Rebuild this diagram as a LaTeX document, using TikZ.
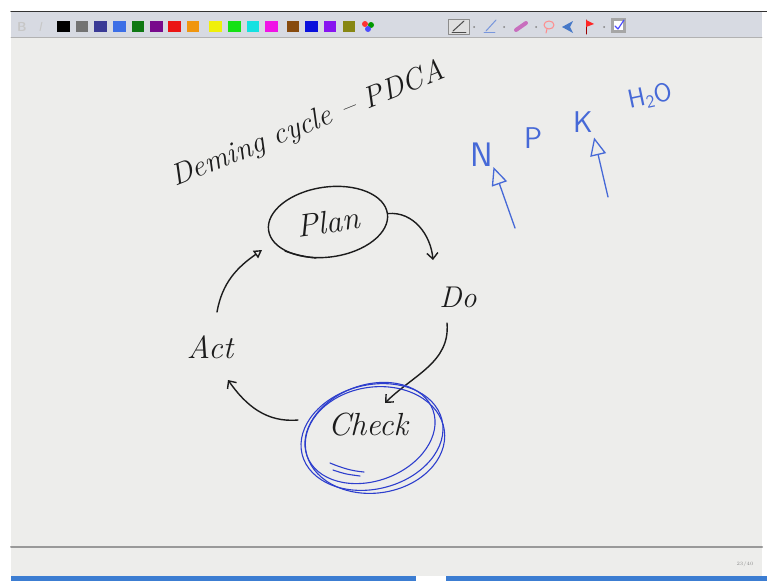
\documentclass[tikz,border=0pt]{standalone}
\usepackage{fontspec}
\usetikzlibrary{arrows.meta,shapes.geometric}
\definecolor{ink}{RGB}{28,28,28}
\definecolor{inkblue}{RGB}{70,105,215}
\definecolor{penblue}{RGB}{45,62,205}
\definecolor{pagegray}{RGB}{237,237,235}
\definecolor{bargray}{RGB}{215,218,226}
\definecolor{taskblue}{RGB}{60,125,210}
\begin{document}
\begin{tikzpicture}[x=1pt,y=1pt,line cap=round,line join=round,
  hand/.style={text=ink,font=\fontsize{32}{38}\selectfont\itshape,inner sep=0pt},
  blueink/.style={text=inkblue,font=\fontsize{30}{36}\selectfont\sffamily,inner sep=0pt},
  cycarrow/.style={draw=ink,line width=1.4pt,-{Straight Barb[length=6pt,width=11pt]}},
  bluearrow/.style={draw=inkblue,line width=1.3pt,-{Triangle[open,length=18pt,width=16pt]}},
  circstroke/.style={draw=penblue,line width=1.1pt}]
				\useasboundingbox (0,0) rectangle (767,-581);
				\fill [white] (0,0) rectangle (767,-581);
				% window: toolbar, page and status bar
				\fill [bargray] (11,-12) rectangle (762,-37);
				\draw [line width=1.2pt,color=black!80] (11,-11.5)-- (767,-11.5);
				\fill [pagegray] (11,-37) rectangle (762,-547);
				\draw [line width=0.6pt,color=black!30] (11,-37)-- (762,-37);
				\draw [line width=2pt,color=black!40] (11,-547)-- (762,-547);
				\fill [pagegray] (11,-548) rectangle (762,-576);
				\fill [taskblue] (11,-576) rectangle (416,-581);
				\fill [taskblue] (446,-576) rectangle (767,-581);
				\node [font=\fontsize{5}{6}\selectfont,text=black!45] (pagenum) at (745,-564) {23/40};
				\node [font=\fontsize{13}{13}\selectfont\sffamily\bfseries,text=black!22] (boldbtn) at (22,-27) {B};
				\node [font=\fontsize{13}{13}\selectfont\sffamily\itshape,text=black!22] (italbtn) at (40,-27) {I};
				% colour swatches
				\fill [black] (57,-21) rectangle (70,-32);
				\fill [black!55] (76,-21) rectangle (88,-32);
				\fill [color={rgb,255:red,58;green,58;blue,150}] (94,-21) rectangle (107,-32);
				\fill [color={rgb,255:red,60;green,110;blue,230}] (113,-21) rectangle (126,-32);
				\fill [color={rgb,255:red,15;green,120;blue,20}] (132,-21) rectangle (144,-32);
				\fill [color={rgb,255:red,120;green,10;blue,140}] (150,-21) rectangle (163,-32);
				\fill [color={rgb,255:red,235;green,20;blue,20}] (168,-21) rectangle (181,-32);
				\fill [color={rgb,255:red,240;green,150;blue,15}] (187,-21) rectangle (199,-32);
				\fill [color={rgb,255:red,240;green,240;blue,10}] (209,-21) rectangle (222,-32);
				\fill [color={rgb,255:red,20;green,225;blue,20}] (228,-21) rectangle (241,-32);
				\fill [color={rgb,255:red,20;green,225;blue,225}] (247,-21) rectangle (259,-32);
				\fill [color={rgb,255:red,240;green,20;blue,230}] (265,-21) rectangle (278,-32);
				\fill [color={rgb,255:red,135;green,75;blue,15}] (287,-21) rectangle (299,-32);
				\fill [color={rgb,255:red,10;green,15;blue,220}] (305,-21) rectangle (318,-32);
				\fill [color={rgb,255:red,135;green,20;blue,240}] (324,-21) rectangle (336,-32);
				\fill [color={rgb,255:red,135;green,135;blue,20}] (343,-21) rectangle (355,-32);
				\fill [red!80] (365,-24) circle (3);
				\fill [green!60!black] (371,-25) circle (3);
				\fill [blue!70] (368,-29) circle (3);
				% tool icons
				\draw [black!45,fill=black!12] (448,-19) rectangle (469,-34);
				\draw [line width=1pt,black!70] (453,-31)-- (464,-21);
				\draw [line width=0.8pt,black!70] (452,-32)-- (466,-32);
				\fill [black!50] (474,-27) circle (1);
				\draw [line width=1pt,color={rgb,255:red,120;green,150;blue,220}] (486,-31)-- (496,-20);
				\draw [line width=0.8pt,color={rgb,255:red,120;green,150;blue,220}] (484,-32)-- (495,-32);
				\fill [black!50] (504,-27) circle (1);
				\draw [line width=4pt,color={rgb,255:red,200;green,110;blue,190}] (516,-30)-- (526,-23);
				\fill [black!50] (536,-27) circle (1);
				\draw [line width=1pt,red!45] (549,-25) ellipse (5 and 4);
				\draw [line width=1pt,red!45] (547,-29)-- (546,-33);
				\fill [color={rgb,255:red,70;green,120;blue,200}] (562,-27)-- (573,-21)-- (570,-27)-- (573,-33)-- cycle;
				\draw [line width=1pt,red!60!black] (586,-34)-- (586,-20);
				\fill [red!85] (586,-20)-- (594,-24)-- (586,-27)-- cycle;
				\fill [black!50] (604,-27) circle (1);
				\fill [black!35] (611,-18) rectangle (626,-33);
				\fill [white] (614,-21) rectangle (623,-30);
				\draw [line width=1.2pt,blue!70] (615,-26)-- (618,-29)-- (624,-20);
				% title
				\node [hand,font=\fontsize{30}{36}\selectfont\itshape,rotate=22] (title) at (308,-125) {Deming cycle -- PDCA};
				% the cycle
				\node [hand,draw=ink,line width=1.4pt,ellipse,minimum width=120pt,minimum height=70pt,rotate=8] (plan) at (328,-222) {Plan};
				\node [hand,font=\fontsize{30}{36}\selectfont\itshape] (do) at (458,-297) {Do};
				\node [hand] (check) at (368,-425) {Check};
				\node [hand] (act) at (210,-347) {Act};
				\draw [ink,line width=1.4pt] (285,-251) .. controls (296,-255) and (306,-257) .. (316,-258);
				\draw [cycarrow] (plan.east) to[out=5,in=95] ([shift={(-25,37)}]do.center);
				\draw [cycarrow] ([shift={(-11,-26)}]do.center) to[out=-85,in=45] ([shift={(17,22)}]check.center);
				\draw [cycarrow] ([shift={(-70,5)}]check.center) to[out=185,in=-55] ([shift={(18,-33)}]act.center);
				\draw [cycarrow,-{Triangle[open,length=8pt,width=9pt]}] ([shift={(7,35)}]act.center) to[out=80,in=215] ([shift={(-66,-28)}]plan.center);
				% blue rings round Check
				\draw [circstroke,rotate around={14:(372,-437)}] (372,-437) ellipse (72 and 52);
				\draw [circstroke,rotate around={20:(370,-433)}] (370,-433) ellipse (67 and 48);
				\draw [circstroke,rotate around={8:(375,-440)}] (375,-440) ellipse (70 and 53);
				\draw [circstroke] (330,-463) .. controls (342,-468) and (352,-471) .. (364,-472);
				\draw [circstroke] (333,-470) .. controls (345,-474) .. (360,-476);
				% N P K H2O
				\node [blueink,font=\fontsize{34}{40}\selectfont\sffamily] (N) at (482,-155) {N};
				\node [blueink] (P) at (533,-138) {P};
				\node [blueink] (K) at (583,-122) {K};
				\node [blueink,font=\fontsize{26}{30}\selectfont\sffamily,rotate=12] (water) at (650,-97) {H\textsubscript{2}O};
				\coordinate (ntail) at (515,-228);
				\coordinate (ktail) at (608,-197);
				\draw [bluearrow] (ntail)-- (N.south east);
				\draw [bluearrow,shorten >=5pt] (ktail)-- (K.south east);
\end{tikzpicture}
\end{document}
